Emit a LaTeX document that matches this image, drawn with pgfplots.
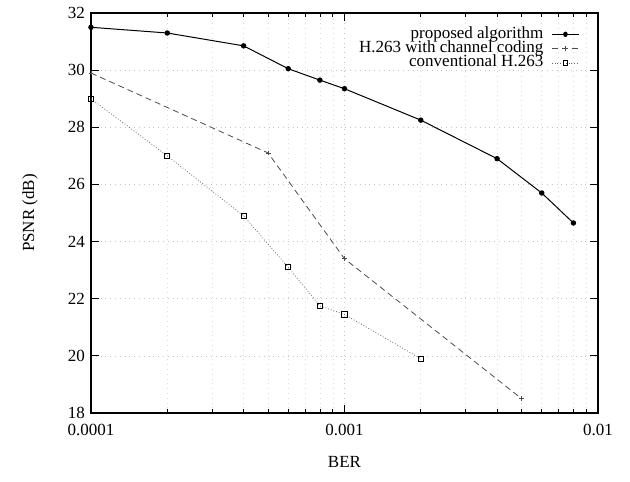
\documentclass[border=0pt]{standalone}
\usepackage{fontspec}
\setmainfont{Liberation Serif}
\usepackage{pgfplots}
\pgfplotsset{compat=1.18}

\begin{document}
\fontsize{8.5}{10}\selectfont
\begin{tikzpicture}
\begin{axis}[
    name=ax,
    xmode=log,
    width=253.5pt, height=200pt,
    scale only axis,
    xmin=1e-4, xmax=1e-2,
    ymin=18, ymax=32,
    ytick={18,20,...,32},
    xtick={1e-4,1e-3,1e-2},
    xticklabels={0.0001,0.001,0.01},
    minor xtick={2e-4,3e-4,4e-4,5e-4,6e-4,7e-4,8e-4,9e-4,2e-3,3e-3,4e-3,5e-3,6e-3,7e-3,8e-3,9e-3},
    /pgf/number format/assume math mode=true,
    xticklabel style={yshift=-2.5pt},
    tick style={black, line width=0.4pt},
    major tick length=4pt, minor tick length=2pt,
    axis line style={line width=0.6pt},
    grid=both,
    major grid style={gray!45, dotted, line width=0.3pt},
    minor grid style={gray!30, dotted, line width=0.3pt},
    xlabel={BER},
    ylabel={PSNR (dB)},
    xlabel style={at={(axis description cs:0.5,-0.1225)}, anchor=center},
    ylabel style={at={(axis description cs:-0.12,0.5)}, anchor=center},
    legend style={draw=none, fill=none, at={(rel axis cs:1,1)}, anchor=north east,
        xshift=-6pt, yshift=-5pt, row sep=0.3pt, column sep=4pt,
        nodes={inner sep=0pt, text height=5.4pt, text depth=1.5pt}},
    legend plot pos=right,
    legend cell align=right,
    legend image post style={xscale=0.8},
    clip=false,
]
\addplot[black, line width=0.5pt, mark=*, mark size=1.1pt] coordinates {
 (1e-4,31.5) (2e-4,31.3) (4e-4,30.85) (6e-4,30.05) (8e-4,29.65)
 (1e-3,29.35) (2e-3,28.25) (4e-3,26.9) (6e-3,25.7) (8e-3,24.65)};
\addlegendentry{proposed algorithm}
\addplot[black!70, line width=0.4pt, densely dashed, mark=+, mark size=1.2pt, mark options={solid}] coordinates {
 (1e-4,29.9) (5e-4,27.1) (1e-3,23.4) (5e-3,18.5)};
\addlegendentry{H.263 with channel coding}
\addplot[black!60, line width=0.4pt, densely dotted, mark=square, mark size=1.3pt, mark options={solid, black}] coordinates {
 (1e-4,29.0) (2e-4,27.0) (4e-4,24.9) (6e-4,23.1) (8e-4,21.75)
 (1e-3,21.45) (2e-3,19.9)};
\addlegendentry{conventional H.263}
\end{axis}
\path[draw=none] ([shift={(-45.5pt,-34.5pt)}]ax.south west) rectangle ([shift={(16pt,6.5pt)}]ax.north east);
\end{tikzpicture}
\end{document}
